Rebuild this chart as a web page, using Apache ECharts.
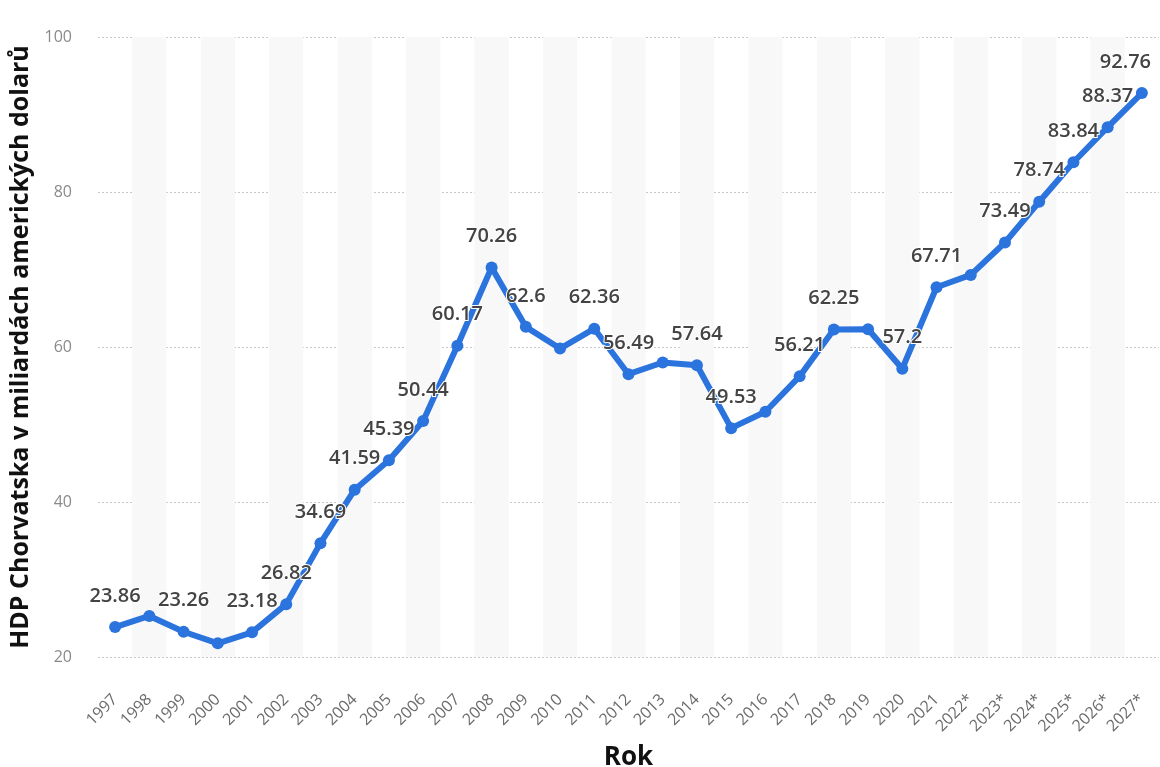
<!DOCTYPE html>
<html>
<head>
<meta charset="utf-8">
<script src="https://cdn.jsdelivr.net/npm/echarts@6/dist/echarts.min.js"></script>
<style>
  html, body { margin: 0; padding: 0; background: #fff; }
  #chart { width: 1160px; height: 767px; }
</style>
</head>
<body>
<div id="chart"></div>
<script>
var years = ['1997', '1998', '1999', '2000', '2001', '2002', '2003', '2004', '2005', '2006',
  '2007', '2008', '2009', '2010', '2011', '2012', '2013', '2014', '2015', '2016',
  '2017', '2018', '2019', '2020', '2021', '2022*', '2023*', '2024*', '2025*', '2026*', '2027*']
var gdp = [23.86, 25.3, 23.26, 21.77, 23.18, 26.82, 34.69, 41.59, 45.39, 50.44,
  60.17, 70.26, 62.6, 59.8, 62.36, 56.49, 58.0, 57.64, 49.53, 51.65,
  56.21, 62.25, 62.3, 57.2, 67.71, 69.3, 73.49, 78.74, 83.84, 88.37, 92.76]
// years whose value label is not shown in the original
var hiddenLabels = ['1998', '2000', '2010', '2013', '2016', '2019', '2022*']
var yTicks = [20, 40, 60, 80, 100]

var chart = echarts.init(document.getElementById('chart'))
var font = 'Open Sans'

var option = {
  animation: false,
  grid: {
    left: 98,
    right: 1,
    top: 37,
    bottom: 110,
    outerBoundsMode: 'none'
  },
  xAxis: {
    type: 'category',
    data: years,
    boundaryGap: true,
    name: 'Rok',
    nameLocation: 'middle',
    nameGap: 88,
    nameTextStyle: { fontFamily: font, fontSize: 26, fontWeight: 'bold', color: '#111' },
    axisLine: { show: false },
    axisTick: { show: false },
    axisLabel: {
      interval: 0,
      rotate: 45,
      margin: 40,
      fontFamily: font,
      fontSize: 16,
      color: '#6b6b6b'
    },
    splitArea: {
      show: true,
      areaStyle: { color: ['rgba(255,255,255,0)', '#f8f8f8'] }
    }
  },
  yAxis: {
    type: 'value',
    min: yTicks[0],
    max: yTicks[yTicks.length - 1],
    interval: 20,
    name: 'HDP Chorvatska v miliardách amerických dolarů',
    nameLocation: 'middle',
    nameGap: 62,
    nameTextStyle: { fontFamily: font, fontSize: 25, fontWeight: 'bold', color: '#111' },
    axisLine: { show: false },
    axisTick: { show: false },
    axisLabel: {
      margin: 26,
      fontFamily: font,
      fontSize: 16,
      color: '#8a8a8a'
    },
    splitLine: {
      lineStyle: { color: '#c8c8c8', type: [2, 2], width: 1 }
    }
  },
  series: [
    {
      type: 'line',
      data: gdp,
      z: 3,
      symbol: 'circle',
      symbolSize: 12,
      lineStyle: { color: '#2b73dd', width: 6 },
      itemStyle: { color: '#2b73dd' },
      label: {
        show: true,
        position: 'top',
        distance: 15,
        fontFamily: font,
        fontSize: 20,
        fontWeight: 600,
        color: '#444',
        textBorderColor: '#fff',
        textBorderWidth: 2,
        formatter: function (p) {
          if (hiddenLabels.indexOf(p.name) >= 0) return ''
          return String(p.value)
        }
      },
      // keep labels inside the chart on the right edge
      labelLayout: function (params) {
        var r = params.labelRect
        var limit = chart.getWidth() - 8
        if (r.x + r.width > limit) {
          return { dx: limit - (r.x + r.width) }
        }
        return {}
      }
    }
  ]
}

chart.setOption(option)
</script>
</body>
</html>
